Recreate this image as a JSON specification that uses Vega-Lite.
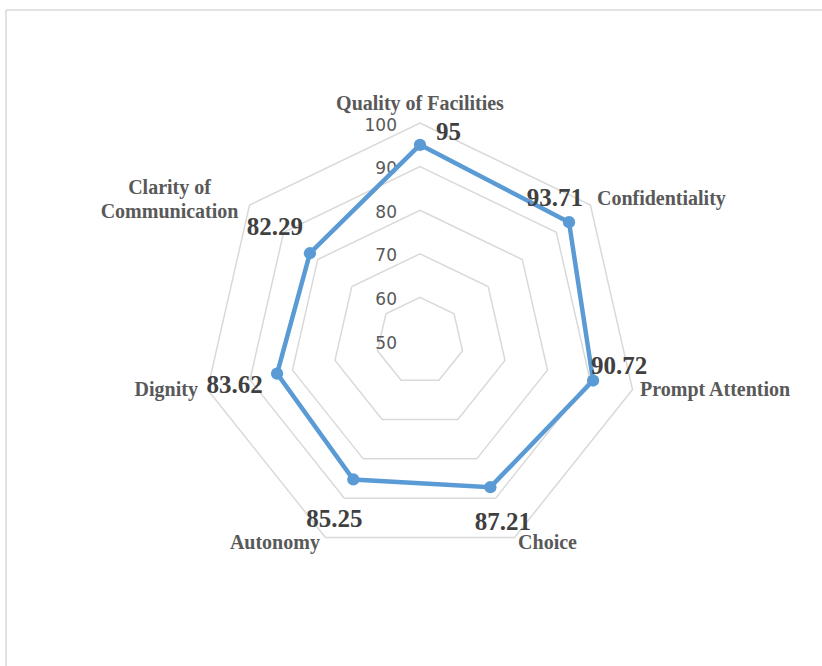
{
  "$schema": "https://vega.github.io/schema/vega-lite/v6.json",
  "width": 816,
  "height": 656,
  "autosize": "none",
  "padding": {"left": 6, "top": 10, "right": 0, "bottom": 0},
  "background": "white",
  "view": {"stroke": null},
  "layer": [
    {
      "data": {"values": [{"edge": "left"}]},
      "mark": {"type": "rule", "color": "#D9D9D9", "strokeWidth": 1.5},
      "encoding": {
        "x": {"datum": -94.95, "type": "quantitative", "scale": {"domain": [-94.95, 92.2], "nice": false, "zero": false}, "axis": null},
        "y": {"datum": 75.92, "type": "quantitative", "scale": {"domain": [-74.54, 75.92], "nice": false, "zero": false}, "axis": null},
        "y2": {"datum": -74.54}
      }
    },
    {
      "data": {"values": [{"edge": "top"}]},
      "mark": {"type": "rule", "color": "#D9D9D9", "strokeWidth": 1.5},
      "encoding": {
        "x": {"datum": -94.95, "type": "quantitative", "scale": {"domain": [-94.95, 92.2], "nice": false, "zero": false}, "axis": null},
        "x2": {"datum": 92.2},
        "y": {"datum": 75.92, "type": "quantitative", "scale": {"domain": [-74.54, 75.92], "nice": false, "zero": false}, "axis": null}
      }
    },
    {
      "data": {"values": [
        {"v": 60, "i": [0, 1, 2, 3, 4, 5, 6]},
        {"v": 70, "i": [0, 1, 2, 3, 4, 5, 6]},
        {"v": 80, "i": [0, 1, 2, 3, 4, 5, 6]},
        {"v": 90, "i": [0, 1, 2, 3, 4, 5, 6]},
        {"v": 100, "i": [0, 1, 2, 3, 4, 5, 6]}
      ]},
      "transform": [
        {"flatten": ["i"]},
        {"calculate": "PI/2 - datum.i*2*PI/7", "as": "ang"},
        {"calculate": "(datum.v-50)*cos(datum.ang)", "as": "X"},
        {"calculate": "(datum.v-50)*sin(datum.ang)", "as": "Y"}
      ],
      "mark": {"type": "line", "interpolate": "linear-closed", "color": "#D9D9D9", "strokeWidth": 1.5},
      "encoding": {
        "x": {"field": "X", "type": "quantitative", "scale": {"domain": [-94.95, 92.2], "nice": false, "zero": false}, "axis": null},
        "y": {"field": "Y", "type": "quantitative", "scale": {"domain": [-74.54, 75.92], "nice": false, "zero": false}, "axis": null},
        "detail": {"field": "v", "type": "nominal"},
        "order": {"field": "i", "type": "quantitative"}
      }
    },
    {
      "data": {"values": [{"v": 50}, {"v": 60}, {"v": 70}, {"v": 80}, {"v": 90}, {"v": 100}]},
      "transform": [
        {"calculate": "0", "as": "X"},
        {"calculate": "datum.v-50", "as": "Y"}
      ],
      "mark": {"type": "text", "font": "DejaVu Sans", "fontSize": 17, "color": "#595959", "align": "right", "baseline": "middle", "dx": -23, "dy": 2.5},
      "encoding": {
        "x": {"field": "X", "type": "quantitative", "scale": {"domain": [-94.95, 92.2], "nice": false, "zero": false}, "axis": null},
        "y": {"field": "Y", "type": "quantitative", "scale": {"domain": [-74.54, 75.92], "nice": false, "zero": false}, "axis": null},
        "text": {"field": "v", "type": "nominal"}
      }
    },
    {
      "data": {"values": [
        {"cat": "Quality of Facilities", "i": 0, "v": 95},
        {"cat": "Confidentiality", "i": 1, "v": 93.71},
        {"cat": "Prompt Attention", "i": 2, "v": 90.72},
        {"cat": "Choice", "i": 3, "v": 87.21},
        {"cat": "Autonomy", "i": 4, "v": 85.25},
        {"cat": "Dignity", "i": 5, "v": 83.62},
        {"cat": "Clarity of\nCommunication", "i": 6, "v": 82.29}
      ]},
      "transform": [
        {"calculate": "PI/2 - datum.i*2*PI/7", "as": "ang"},
        {"calculate": "(datum.v-50)*cos(datum.ang)", "as": "X"},
        {"calculate": "(datum.v-50)*sin(datum.ang)", "as": "Y"}
      ],
      "encoding": {
        "x": {"field": "X", "type": "quantitative", "scale": {"domain": [-94.95, 92.2], "nice": false, "zero": false}, "axis": null},
        "y": {"field": "Y", "type": "quantitative", "scale": {"domain": [-74.54, 75.92], "nice": false, "zero": false}, "axis": null}
      },
      "layer": [
        {
          "mark": {"type": "line", "interpolate": "linear-closed", "color": "#5B9BD5", "strokeWidth": 4.5},
          "encoding": {"order": {"field": "i", "type": "quantitative"}}
        },
        {
          "mark": {"type": "point", "shape": "circle", "filled": true, "size": 150, "color": "#5B9BD5", "opacity": 1}
        },
        {
          "encoding": {"text": {"field": "v", "type": "nominal"}},
          "layer": [
            {"transform": [{"filter": "datum.i == 0"}], "mark": {"type": "text", "font": "Liberation Serif", "fontWeight": "bold", "fontSize": 25, "color": "#404040", "align": "center", "baseline": "alphabetic", "dx": 28.5, "dy": -5}},
            {"transform": [{"filter": "datum.i == 1"}], "mark": {"type": "text", "font": "Liberation Serif", "fontWeight": "bold", "fontSize": 25, "color": "#404040", "align": "center", "baseline": "alphabetic", "dx": -14, "dy": -16}},
            {"transform": [{"filter": "datum.i == 2"}], "mark": {"type": "text", "font": "Liberation Serif", "fontWeight": "bold", "fontSize": 25, "color": "#404040", "align": "center", "baseline": "alphabetic", "dx": 26, "dy": -6.5}},
            {"transform": [{"filter": "datum.i == 3"}], "mark": {"type": "text", "font": "Liberation Serif", "fontWeight": "bold", "fontSize": 25, "color": "#404040", "align": "center", "baseline": "alphabetic", "dx": 12.5, "dy": 43}},
            {"transform": [{"filter": "datum.i == 4"}], "mark": {"type": "text", "font": "Liberation Serif", "fontWeight": "bold", "fontSize": 25, "color": "#404040", "align": "center", "baseline": "alphabetic", "dx": -19, "dy": 47.5}},
            {"transform": [{"filter": "datum.i == 5"}], "mark": {"type": "text", "font": "Liberation Serif", "fontWeight": "bold", "fontSize": 25, "color": "#404040", "align": "center", "baseline": "alphabetic", "dx": -42.5, "dy": 19.5}},
            {"transform": [{"filter": "datum.i == 6"}], "mark": {"type": "text", "font": "Liberation Serif", "fontWeight": "bold", "fontSize": 25, "color": "#404040", "align": "center", "baseline": "alphabetic", "dx": -35, "dy": -18}}
          ]
        },
        {
          "transform": [
            {"calculate": "50*cos(datum.ang)", "as": "X"},
            {"calculate": "50*sin(datum.ang)", "as": "Y"}
          ],
          "encoding": {"text": {"field": "cat", "type": "nominal"}},
          "layer": [
            {"transform": [{"filter": "datum.i == 0"}], "mark": {"type": "text", "font": "Liberation Serif", "fontWeight": "bold", "fontSize": 20, "color": "#595959", "align": "center", "baseline": "alphabetic", "dx": 0, "dy": -13}},
            {"transform": [{"filter": "datum.i == 1"}], "mark": {"type": "text", "font": "Liberation Serif", "fontWeight": "bold", "fontSize": 20, "color": "#595959", "align": "left", "baseline": "alphabetic", "dx": 6.5, "dy": 0}},
            {"transform": [{"filter": "datum.i == 2"}], "mark": {"type": "text", "font": "Liberation Serif", "fontWeight": "bold", "fontSize": 20, "color": "#595959", "align": "left", "baseline": "alphabetic", "dx": 7.5, "dy": 6.5}},
            {"transform": [{"filter": "datum.i == 3"}], "mark": {"type": "text", "font": "Liberation Serif", "fontWeight": "bold", "fontSize": 20, "color": "#595959", "align": "left", "baseline": "alphabetic", "dx": 3.5, "dy": 12}},
            {"transform": [{"filter": "datum.i == 4"}], "mark": {"type": "text", "font": "Liberation Serif", "fontWeight": "bold", "fontSize": 20, "color": "#595959", "align": "right", "baseline": "alphabetic", "dx": -5.5, "dy": 12}},
            {"transform": [{"filter": "datum.i == 5"}], "mark": {"type": "text", "font": "Liberation Serif", "fontWeight": "bold", "fontSize": 20, "color": "#595959", "align": "right", "baseline": "alphabetic", "dx": -9.5, "dy": 6.5}},
            {"transform": [{"filter": "datum.i == 6"}], "mark": {"type": "text", "font": "Liberation Serif", "fontWeight": "bold", "fontSize": 20, "color": "#595959", "align": "center", "baseline": "alphabetic", "dx": -80, "dy": -11, "lineBreak": "\n", "lineHeight": 24}}
          ]
        }
      ]
    }
  ]
}
